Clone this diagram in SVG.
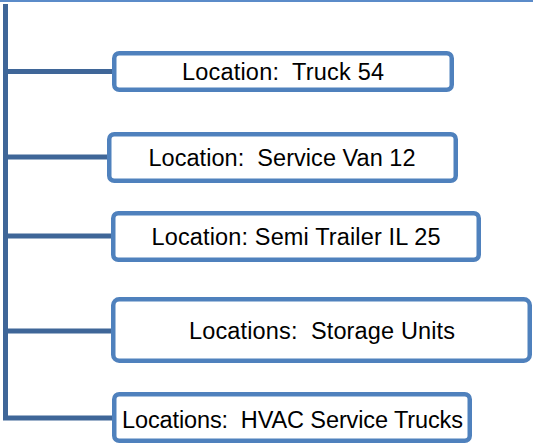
<svg xmlns="http://www.w3.org/2000/svg" width="533" height="445" viewBox="0 0 533 445" xml:space="preserve">
<style>
.box{fill:#ffffff;stroke:#4F81BD;stroke-width:4.5}
.lbl{font-family:"Liberation Sans",Arial,sans-serif;font-size:23.5px;fill:#000000;text-anchor:middle;white-space:pre}
.conn{fill:none;stroke:#3F6698;stroke-width:5;stroke-linejoin:miter;stroke-linecap:butt}
</style>
<rect x="0" y="0" width="533" height="445" fill="#ffffff"/>
<line x1="0" y1="1" x2="533" y2="1" stroke="#5B8BC9" stroke-width="2"/>
<g id="connectors">
<path class="conn" d="M5.5 4 V418 H112"/>
<path class="conn" d="M5.5 71.5 H112"/>
<path class="conn" d="M5.5 157 H107"/>
<path class="conn" d="M5.5 236 H111"/>
<path class="conn" d="M5.5 331 H111"/>
</g>
<g id="node1">
<rect class="box" x="114.25" y="53.25" width="337.5" height="36.5" rx="5"/>
<text class="lbl" x="283" y="80" textLength="202" lengthAdjust="spacing">Location:  Truck 54</text>
</g>
<g id="node2">
<rect class="box" x="109.25" y="134.25" width="346.5" height="46.5" rx="5"/>
<text class="lbl" x="282" y="166" textLength="267" lengthAdjust="spacing">Location:  Service Van 12</text>
</g>
<g id="node3">
<rect class="box" x="113.25" y="213.25" width="365.5" height="46.5" rx="5"/>
<text class="lbl" x="296" y="245" textLength="289" lengthAdjust="spacing">Location: Semi Trailer IL 25</text>
</g>
<g id="node4">
<rect class="box" x="113.25" y="299.25" width="416.5" height="61.5" rx="6"/>
<text class="lbl" x="322" y="339" textLength="266" lengthAdjust="spacing">Locations:  Storage Units</text>
</g>
<g id="node5">
<rect class="box" x="114.25" y="394.25" width="355.5" height="46.5" rx="5"/>
<text class="lbl" x="292.5" y="428" textLength="341" lengthAdjust="spacing">Locations:  HVAC Service Trucks</text>
</g>
</svg>
